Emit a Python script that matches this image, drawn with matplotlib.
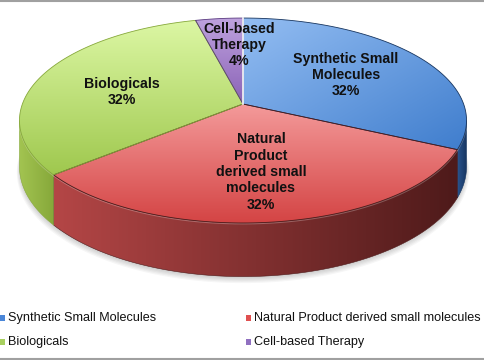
import numpy as np
import matplotlib
matplotlib.use("Agg")
import matplotlib.pyplot as plt
from matplotlib.patches import Polygon
from matplotlib.colors import LinearSegmentedColormap

labels = ["Synthetic Small Molecules", "Natural Product derived small molecules",
          "Biologicals", "Cell-based Therapy"]
slice_labels = ["Synthetic Small\nMolecules\n32%", "Natural\nProduct\nderived small\nmolecules\n32%",
                "Biologicals\n32%", "Cell-based\nTherapy\n4%"]
values = [32, 32, 32, 4]

top_light = ["#93bdf2", "#f49a9a", "#dcf7a4", "#bea2de"]
top_dark = ["#3f7dcd", "#d44444", "#9fc84e", "#8a62b6"]
side_light = ["#2a5590", "#b44646", "#a3c451", "#7a52a6"]
side_dark = ["#17355f", "#4e1a1a", "#86a83a", "#5a3a80"]
legend_colors = ["#4a86d8", "#e05050", "#a8d060", "#9070c0"]

label_pos = [(346, 75), (261, 172), (122, 92), (239, 45)]

W, H = 485, 360
fig = plt.figure(figsize=(W / 100, H / 100), dpi=100)
ax = fig.add_axes([0, 0, 1, 1])
ax.set_xlim(0, W)
ax.set_ylim(H, 0)
ax.axis("off")

cx, cy = 243, 104
A, B, k = 99.8, 220.6, 0.161
depth = 45


def proj(theta, down=0.0):
    u, v = np.cos(theta), np.sin(theta)
    s = 1 + k * v
    return np.column_stack([cx + B * u / s, cy - A * v / s + down / s])


def grad_fill(poly_xy, c1, c2, direction, zorder):
    poly = Polygon(poly_xy, closed=True, facecolor="none", edgecolor="none")
    ax.add_patch(poly)
    x0, y0 = poly_xy.min(axis=0)
    x1, y1 = poly_xy.max(axis=0)
    n = 256
    g = np.linspace(0, 1, n)
    if direction == "v":
        img = np.tile(g[:, None], (1, 2))
    elif direction == "h":
        img = np.tile(g[None, :], (2, 1))
    else:
        gx, gy = np.meshgrid(g, g)
        img = (gx + gy) / 2
    cmap = LinearSegmentedColormap.from_list("g", [c1, c2])
    im = ax.imshow(img, cmap=cmap, extent=[x0, x1, y1, y0], aspect="auto",
                   interpolation="bilinear", zorder=zorder, vmin=0, vmax=1)
    im.set_clip_path(poly)


# soft shadow
for i in range(5):
    th = np.linspace(0, 2 * np.pi, 300)
    pts = proj(th, depth + 1.5 + i)
    pts[:, 0] = cx + (pts[:, 0] - cx) * (1.0 + 0.003 * i)
    ax.add_patch(Polygon(pts, closed=True, facecolor=(0, 0, 0, 0.035), edgecolor="none", zorder=1))

fracs = np.array(values) / sum(values)
start = np.pi / 2
angles = []
a0 = start
for f in fracs:
    a1 = a0 - f * 2 * np.pi
    angles.append((a0, a1))
    a0 = a1

front_lo = np.pi + np.arcsin(k)
front_hi = 2 * np.pi - np.arcsin(k)

# sides
for i, (a0, a1) in enumerate(angles):
    lo, hi = min(a0, a1), max(a0, a1)
    segs = []
    for off in (0, 2 * np.pi, -2 * np.pi):
        l2, h2 = max(lo + off, front_lo), min(hi + off, front_hi)
        if h2 > l2:
            segs.append((l2, h2))
    for l2, h2 in segs:
        th = np.linspace(l2, h2, 120)
        top = proj(th)
        bot = proj(th, depth)
        pts = np.vstack([top, bot[::-1]])
        grad_fill(pts, side_light[i], side_dark[i], "h", 2)
        ax.add_patch(Polygon(pts, closed=True, facecolor="none",
                             edgecolor=side_dark[i], lw=0.4, zorder=2.5))
        ax.plot(top[:, 0], top[:, 1] + 0.8, color="white", alpha=0.25, lw=1.0, zorder=2.6)

# tops
for i, (a0, a1) in enumerate(angles):
    th = np.linspace(a0, a1, 200)
    arc = proj(th)
    pts = np.vstack([[cx, cy], arc])
    direction = "d" if i == 0 else "v"
    grad_fill(pts, top_light[i], top_dark[i], direction, 3)
    ax.add_patch(Polygon(pts, closed=True, facecolor="none",
                         edgecolor=side_dark[i], lw=0.6, zorder=3.5))

# white separator between purple and blue at top
p = proj(np.array([np.pi / 2]))[0]
ax.plot([cx, p[0]], [cy, p[1]], color="white", lw=1.2, zorder=3.6)

for (x, y), t in zip(label_pos, slice_labels):
    ax.text(x, y, t, ha="center", va="center", fontsize=10.2, fontweight="bold",
            family="Liberation Sans", linespacing=1.22, color="#111111", zorder=5)

# legend
leg = [(0, 318), (246, 318), (0, 342), (246, 342)]
for (x, y), c, t in zip(leg, legend_colors, labels):
    ax.add_patch(plt.Rectangle((x, y - 3), 5.5, 5.5, facecolor=c, edgecolor="none", zorder=5))
    ax.text(x + 8, y, t, ha="left", va="center", fontsize=9.05,
            family="Liberation Sans", color="#111111", zorder=5)

ax.plot([0, W], [0.5, 0.5], color="#a0a0a0", lw=1.5, zorder=6)
ax.plot([0, W], [358.5, 358.5], color="#a0a0a0", lw=1.5, zorder=6)

fig.savefig("out.png", dpi=100)
